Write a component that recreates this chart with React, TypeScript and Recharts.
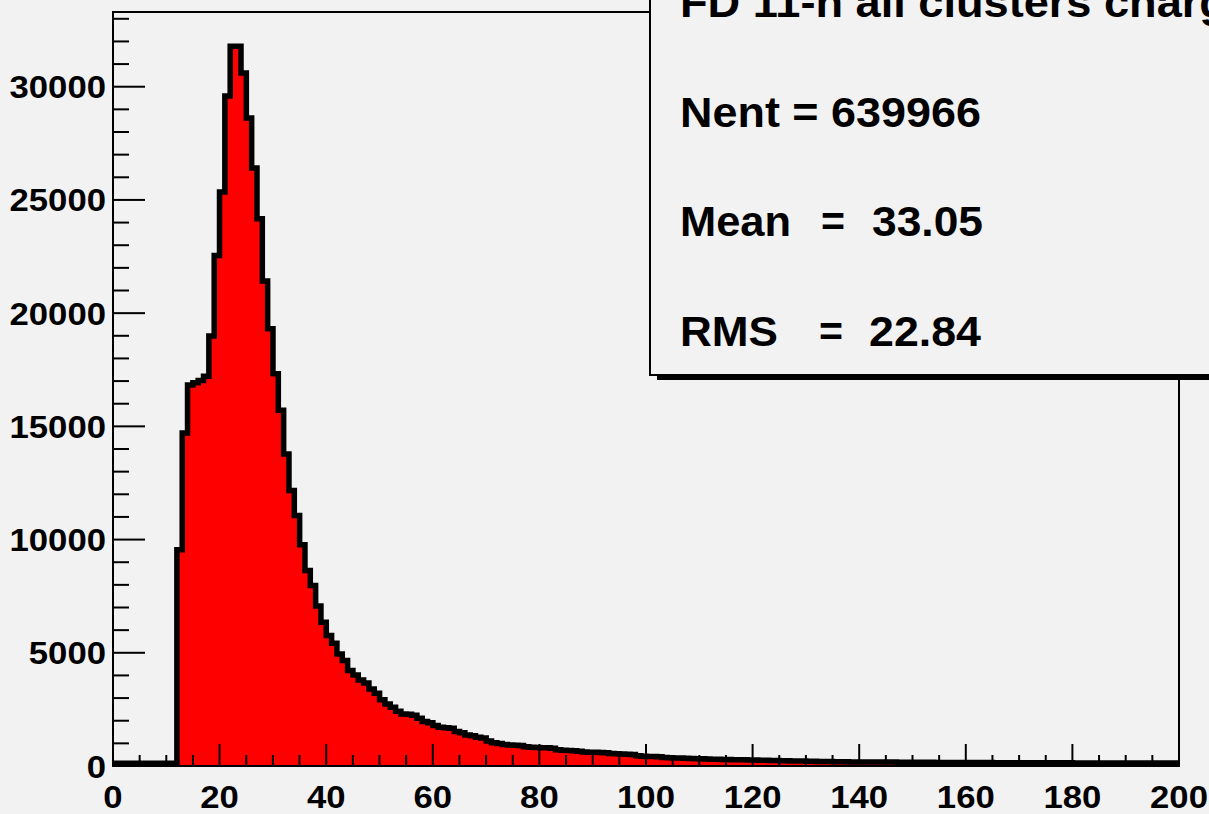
import React from 'react';
import { ComposedChart, Area, XAxis, YAxis, ReferenceArea } from 'recharts';

// bins are 1 wide and centred on integers, first filled bin is centred on 13
const firstBin = 13;
const counts = [
  9430, 14580, 16700, 16800, 16900, 17090, 18870, 22430, 25230, 29470,
  31670, 30490, 28500, 26290, 24050, 21300, 19190, 17200, 15590, 13660,
  12050, 10940, 9650, 8510, 7850, 6940, 6230, 5640, 5300, 4830,
  4540, 4100, 3900, 3680, 3540, 3280, 3090, 2800, 2620, 2470,
  2300, 2180, 2160, 2120, 1990, 1840, 1790, 1670, 1590, 1570,
  1550, 1400, 1350, 1250, 1220, 1150, 1120, 980, 900, 870,
  830, 810, 800, 780, 730, 710, 700, 690, 680, 660,
  600, 570, 560, 550, 530, 500, 490, 490, 480, 460,
  430, 420, 410, 400, 390, 330, 310, 300, 300, 290,
  250, 240, 230, 230, 220, 210, 200, 200, 190, 180,
  180, 170, 170, 160, 150, 150, 140, 140, 130, 130,
  120, 120, 110, 110, 100, 100, 100, 90, 90, 80,
  80, 80, 70, 70, 70, 60, 60, 60, 60, 50,
  50, 50, 50, 50, 40, 40, 40, 40, 40, 40,
  40, 30, 30, 30, 30, 30, 30, 30, 30, 30,
  30, 30, 20, 20, 20, 20, 20, 20, 20, 20,
  20, 20, 20, 20, 20, 20, 20, 10, 10, 10,
  10, 10, 10, 10, 10, 10, 10, 10, 10, 10,
  10, 10, 10, 10, 10, 10, 10,
];

const xMajorTicks = [0, 20, 40, 60, 80, 100, 120, 140, 160, 180, 200];
const yMajorTicks = [0, 5000, 10000, 15000, 20000, 25000, 30000];
const xMinorStep = 5;
const yMinorStep = 1000;
const xMax = 200;
const yMax = 33300;

const statsTitle = 'FD 11-h all clusters charge';
const statsNent = 'Nent = 639966';
const statsMean = '33.05';
const statsRms = '22.84';

// step points at the lower edge of every bin
const histData: { edge: number; count: number }[] = [{ edge: 0, count: 0 }];
counts.forEach((c, i) => histData.push({ edge: firstBin + i - 0.5, count: c }));
histData.push({ edge: xMax, count: counts[counts.length - 1] });

const xTicks: number[] = [];
for (let v = 0; v <= xMax; v += xMinorStep) xTicks.push(v);
const yTicks: number[] = [];
for (let v = 0; v <= 33000; v += yMinorStep) yTicks.push(v);

const font = "'Liberation Sans', Arial, Helvetica, sans-serif";
const digitW = 19.3; // ROOT's bold helvetica comes out a bit wider than Liberation

const XTick = (props: any) => {
  const { x, y, payload } = props;
  const major = xMajorTicks.includes(payload.value);
  const label = String(payload.value);
  return (
    <g>
      <line x1={x} y1={y} x2={x} y2={y - (major ? 22 : 11)} stroke="#000" strokeWidth={2} />
      {major && (
        <text
          x={x}
          y={y + 42}
          textAnchor="middle"
          textLength={label.length * digitW}
          lengthAdjust="spacingAndGlyphs"
          fontFamily={font}
          fontWeight="bold"
          fontSize={32}
          fill="#000"
        >
          {label}
        </text>
      )}
    </g>
  );
};

const YTick = (props: any) => {
  const { x, y, payload } = props;
  const major = yMajorTicks.includes(payload.value);
  const label = String(payload.value);
  return (
    <g>
      <line x1={x} y1={y} x2={x + (major ? 32 : 16)} y2={y} stroke="#000" strokeWidth={2} />
      {major && (
        <text
          x={x - 7}
          y={y + 11.5}
          textAnchor="end"
          textLength={label.length * digitW}
          lengthAdjust="spacingAndGlyphs"
          fontFamily={font}
          fontWeight="bold"
          fontSize={32}
          fill="#000"
        >
          {label}
        </text>
      )}
    </g>
  );
};

const StatsBox = () => {
  const t = { fontFamily: font, fontWeight: 'bold' as const, fontSize: 42, fill: '#000' };
  return (
    <svg width={1209} height={814} style={{ position: 'absolute', left: 0, top: 0, pointerEvents: 'none' }}>
      <rect x={657} y={-200} width={700} height={580} fill="#000" />
      <rect x={650} y={-200} width={700} height={575} fill="#f2f2f2" stroke="#000" strokeWidth={2} />
      <text x={680} y={17} textLength={572} lengthAdjust="spacingAndGlyphs" {...t}>{statsTitle}</text>
      <text x={680} y={127} textLength={301} lengthAdjust="spacingAndGlyphs" {...t}>{statsNent}</text>
      <text x={680} y={236} textLength={111} lengthAdjust="spacingAndGlyphs" {...t}>Mean</text>
      <text x={821} y={236} textLength={24} lengthAdjust="spacingAndGlyphs" {...t}>=</text>
      <text x={872} y={236} textLength={111} lengthAdjust="spacingAndGlyphs" {...t}>{statsMean}</text>
      <text x={680} y={346} textLength={98} lengthAdjust="spacingAndGlyphs" {...t}>RMS</text>
      <text x={819} y={346} textLength={24} lengthAdjust="spacingAndGlyphs" {...t}>=</text>
      <text x={869} y={346} textLength={112} lengthAdjust="spacingAndGlyphs" {...t}>{statsRms}</text>
    </svg>
  );
};

export default function App() {
  return (
    <div style={{ position: 'absolute', left: 0, top: 0, width: 1209, height: 814, background: '#f2f2f2', overflow: 'hidden' }}>
      <ComposedChart width={1209} height={814} data={histData} margin={{ top: 12, right: 30, bottom: 0, left: 0 }}>
        <XAxis
          dataKey="edge"
          type="number"
          domain={[0, xMax]}
          ticks={xTicks}
          interval={0}
          height={48}
          tickSize={0}
          tickMargin={0}
          tickLine={false}
          tick={<XTick />}
          axisLine={{ stroke: '#000', strokeWidth: 2 }}
          allowDataOverflow
        />
        <YAxis
          type="number"
          domain={[0, yMax]}
          ticks={yTicks}
          interval={0}
          width={113}
          tickSize={0}
          tickMargin={0}
          tickLine={false}
          tick={<YTick />}
          axisLine={{ stroke: '#000', strokeWidth: 2 }}
          allowDataOverflow
        />
        <ReferenceArea x1={0} x2={xMax} y1={0} y2={yMax} fill="none" stroke="#000" strokeWidth={2} />
        <Area
          type="stepAfter"
          dataKey="count"
          stroke="#000"
          strokeWidth={11}
          fill="none"
          dot={false}
          activeDot={false}
          isAnimationActive={false}
        />
        <Area
          type="stepAfter"
          dataKey="count"
          stroke="none"
          fill="#ff0000"
          fillOpacity={1}
          dot={false}
          activeDot={false}
          isAnimationActive={false}
        />
      </ComposedChart>
      <StatsBox />
    </div>
  );
}
